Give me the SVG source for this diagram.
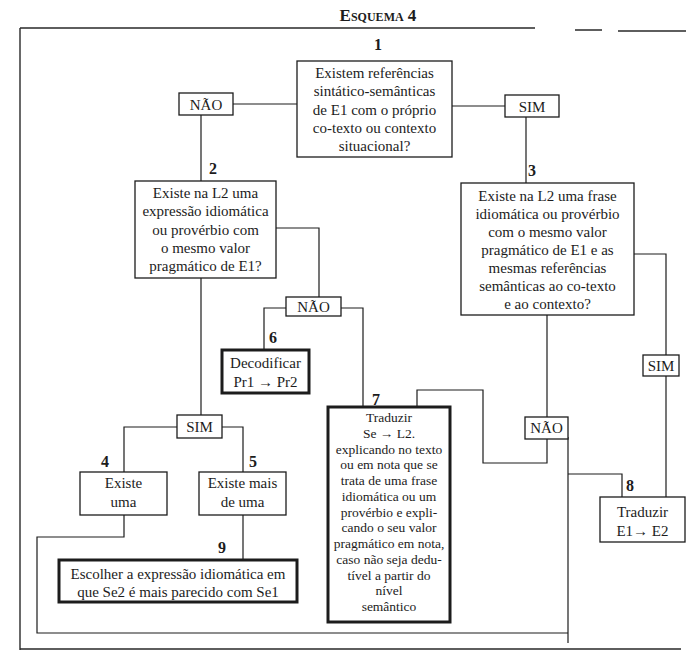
<svg xmlns="http://www.w3.org/2000/svg" width="686" height="652" viewBox="0 0 686 652">
<style>
.bg{fill:#ffffff}
.box{fill:#ffffff;stroke:#1c1c1c;stroke-width:1.3}
.thick{stroke-width:3}
.c{fill:none;stroke:#1c1c1c;stroke-width:1.2}
.frame{fill:none;stroke:#2a2a2a;stroke-width:1.4}
.t{font-family:"Liberation Serif","Times New Roman",serif;font-size:15px;fill:#1c1c1c;text-anchor:middle}
.s{font-size:13.5px}
.n{font-family:"Liberation Serif","Times New Roman",serif;font-size:16px;font-weight:bold;fill:#1c1c1c;text-anchor:middle}
.title{font-family:"Liberation Serif","Times New Roman",serif;font-size:17px;font-weight:bold;font-variant:small-caps;fill:#1c1c1c;text-anchor:middle}
</style>
<rect class="bg" x="0" y="0" width="686" height="652"/>

<g id="frame">
<text class="title" x="378" y="21">Esquema 4</text>
<path class="frame" d="M20,28 H535 M575,30 H602 M618,31 H686 M20,28 V650 M20,649 H681"/>
</g>

<g id="connectors">
<path class="c" d="M297,104 H233"/>
<path class="c" d="M201,115 V181"/>
<path class="c" d="M452,106 H505"/>
<path class="c" d="M526,117 V183"/>
<path class="c" d="M276,228 H319 V297"/>
<path class="c" d="M286,308 H264 V350"/>
<path class="c" d="M341,308 H363 V407"/>
<path class="c" d="M201,278 V415"/>
<path class="c" d="M177,427 H124 V472"/>
<path class="c" d="M222,427 H243 V472"/>
<path class="c" d="M243,515 V560"/>
<path class="c" d="M124,515 V537 H37 V633 H568"/>
<path class="c" d="M568,437 V643"/>
<path class="c" d="M568,474 H622 V497"/>
<path class="c" d="M547,315 V417"/>
<path class="c" d="M547,439 V463 H483 V390 H417 V407"/>
<path class="c" d="M634,254 H666 V355"/>
<path class="c" d="M666,376 V497"/>
</g>

<g id="node1">
<text class="n" x="378" y="50">1</text>
<rect class="box" x="297" y="61" width="155" height="96"/>
<text class="t" x="374.5" y="78">Existem referências</text>
<text class="t" x="374.5" y="96">sintático-semânticas</text>
<text class="t" x="374.5" y="115">de E1 com o próprio</text>
<text class="t" x="374.5" y="133">co-texto ou contexto</text>
<text class="t" x="374.5" y="151">situacional?</text>
</g>

<g id="nao1">
<rect class="box" x="179" y="93" width="54" height="22"/>
<text class="t" x="206" y="109.5">NÃO</text>
</g>

<g id="sim1">
<rect class="box" x="505" y="95" width="54" height="22"/>
<text class="t" x="532" y="111.5">SIM</text>
</g>

<g id="node2">
<text class="n" x="213" y="174">2</text>
<rect class="box" x="135" y="181" width="141" height="97"/>
<text class="t" x="205.5" y="198">Existe na L2 uma</text>
<text class="t" x="205.5" y="216">expressão idiomática</text>
<text class="t" x="205.5" y="235">ou provérbio com</text>
<text class="t" x="205.5" y="253">o mesmo valor</text>
<text class="t" x="205.5" y="271">pragmático de E1?</text>
</g>

<g id="node3">
<text class="n" x="532" y="176">3</text>
<rect class="box" x="461" y="183" width="173" height="132"/>
<text class="t" x="547.5" y="201">Existe na L2 uma frase</text>
<text class="t" x="547.5" y="219">idiomática ou provérbio</text>
<text class="t" x="547.5" y="237">com o mesmo valor</text>
<text class="t" x="547.5" y="255">pragmático de E1 e as</text>
<text class="t" x="547.5" y="273">mesmas referências</text>
<text class="t" x="547.5" y="291">semânticas ao co-texto</text>
<text class="t" x="547.5" y="309">e ao contexto?</text>
</g>

<g id="nao2">
<rect class="box" x="286" y="297" width="55" height="19"/>
<text class="t" x="313.5" y="311.5">NÃO</text>
</g>

<g id="node6">
<text class="n" x="273" y="343">6</text>
<rect class="box thick" x="222" y="350" width="87" height="43"/>
<text class="t" x="265.5" y="368">Decodificar</text>
<text class="t" x="265.5" y="387">Pr1 → Pr2</text>
</g>

<g id="sim2">
<rect class="box" x="177" y="415" width="45" height="23"/>
<text class="t" x="199.5" y="432">SIM</text>
</g>

<g id="node4">
<text class="n" x="105" y="467">4</text>
<rect class="box" x="80" y="472" width="87" height="43"/>
<text class="t" x="123.5" y="488">Existe</text>
<text class="t" x="123.5" y="507">uma</text>
</g>

<g id="node5">
<text class="n" x="253" y="467">5</text>
<rect class="box" x="199" y="472" width="87" height="43"/>
<text class="t" x="242.5" y="488">Existe mais</text>
<text class="t" x="242.5" y="507">de uma</text>
</g>

<g id="node9">
<text class="n" x="222" y="553">9</text>
<rect class="box thick" x="59" y="560" width="238" height="42"/>
<text class="t" x="178" y="579">Escolher a expressão idiomática em</text>
<text class="t" x="178" y="597">que Se2 é mais parecido com Se1</text>
</g>

<g id="node7">
<text class="n" x="376" y="405">7</text>
<rect class="box thick" x="328" y="407" width="122" height="215"/>
<text class="t s" x="389" y="422">Traduzir</text>
<text class="t s" x="389" y="437.75">Se → L2.</text>
<text class="t s" x="389" y="453.5">explicando no texto</text>
<text class="t s" x="389" y="469.25">ou em nota que se</text>
<text class="t s" x="389" y="485">trata de uma frase</text>
<text class="t s" x="389" y="500.75">idiomática ou um</text>
<text class="t s" x="389" y="516.5">provérbio e expli-</text>
<text class="t s" x="389" y="532.25">cando o seu valor</text>
<text class="t s" x="389" y="548">pragmático em nota,</text>
<text class="t s" x="389" y="563.75">caso não seja dedu-</text>
<text class="t s" x="389" y="579.5">tível a partir do</text>
<text class="t s" x="389" y="595.25">nível</text>
<text class="t s" x="389" y="611">semântico</text>
</g>

<g id="nao3">
<rect class="box" x="525" y="417" width="43" height="22"/>
<text class="t" x="546.5" y="433">NÃO</text>
</g>

<g id="sim3">
<rect class="box" x="643" y="355" width="36" height="21"/>
<text class="t" x="661" y="371">SIM</text>
</g>

<g id="node8">
<text class="n" x="630" y="491">8</text>
<rect class="box" x="600" y="497" width="85" height="45"/>
<text class="t" x="642.5" y="517">Traduzir</text>
<text class="t" x="642.5" y="536">E1→ E2</text>
</g>
</svg>
